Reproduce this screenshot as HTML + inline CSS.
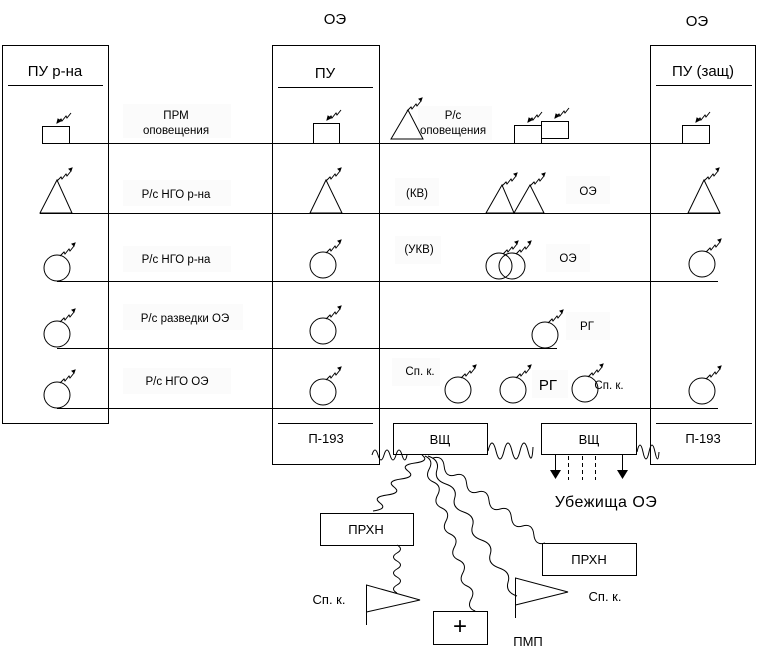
<!DOCTYPE html>
<html><head><meta charset="utf-8"><style>
body{margin:0;background:#fff}
svg{display:block}
text{font-family:"Liberation Sans",sans-serif;fill:#000}
</style></head><body>
<svg width="759" height="659" viewBox="0 0 759 659" xmlns="http://www.w3.org/2000/svg">
<defs>
<g id="lt"><path d="M0,0 l4,-4 l1,2 l4,-5 l1,2 l4,-5" fill="none" stroke="#000" stroke-width="1"/><path d="M14,-10 l1,-3 l-3,1z" fill="#000" stroke="#000" stroke-width="1"/></g>
<g id="ltd"><path d="M0,0 l4,-4 l1,2 l4,-5 l1,2 l4,-5" fill="none" stroke="#000" stroke-width="1"/><path d="M0,0 l1,-4 l3,2z" fill="#000" stroke="#000"/></g>
</defs>
<g fill="none" stroke="#000" stroke-width="1">
<rect x="2.5" y="45.5" width="106" height="378"/>
<rect x="272.5" y="45.5" width="107" height="419"/>
<rect x="650.5" y="45.5" width="105" height="419"/>
<line x1="8" y1="85.5" x2="103" y2="85.5"/>
<line x1="278" y1="87.5" x2="373" y2="87.5"/>
<line x1="656" y1="85.5" x2="752" y2="85.5"/>
<line x1="278" y1="423.5" x2="373" y2="423.5"/>
<line x1="656" y1="423.5" x2="752" y2="423.5"/>
<line x1="42" y1="143.5" x2="709" y2="143.5"/>
<line x1="40" y1="213.5" x2="720" y2="213.5"/>
<line x1="57" y1="281.5" x2="718" y2="281.5"/>
<line x1="57" y1="348.5" x2="557" y2="348.5"/>
<line x1="57" y1="408.5" x2="718" y2="408.5"/>
</g>
<g fill="#fbfbfb">
<rect x="123" y="104" width="108" height="34"/>
<rect x="418" y="106" width="74" height="34"/>
<rect x="123" y="180" width="108" height="26"/>
<rect x="123" y="246" width="108" height="26"/>
<rect x="123" y="304" width="120" height="26"/>
<rect x="123" y="368" width="108" height="26"/>
<rect x="395" y="178" width="44" height="28"/>
<rect x="395" y="236" width="46" height="28"/>
<rect x="566" y="176" width="44" height="28"/>
<rect x="546" y="244" width="44" height="28"/>
<rect x="566" y="312" width="44" height="28"/>
<rect x="392" y="358" width="48" height="28"/>
<rect x="532" y="370" width="36" height="28"/>
</g>
<g fill="none" stroke="#000" stroke-width="1">
<rect x="42.5" y="126.5" width="27" height="17"/>
<rect x="313.5" y="123.5" width="26" height="20"/>
<rect x="514.5" y="125.5" width="27" height="18"/>
<rect x="541.5" y="121.5" width="27" height="17"/>
<rect x="682.5" y="125.5" width="27" height="18"/>
<polygon points="408,110 391,139 423,139"/>
<polygon points="57,180 40,213 72,213"/>
<polygon points="326,180 310,213 342,213"/>
<polygon points="502,185 486,213 514,213"/>
<polygon points="530,185 514,213 544,213"/>
<polygon points="704,180 688,213 720,213"/>
<circle cx="57" cy="268" r="13"/>
<circle cx="323" cy="265" r="13"/>
<circle cx="499" cy="266" r="13"/>
<circle cx="512" cy="266" r="13"/>
<circle cx="702" cy="264" r="13"/>
<circle cx="57" cy="334" r="13"/>
<circle cx="323" cy="331" r="13"/>
<circle cx="545" cy="335" r="13"/>
<circle cx="57" cy="395" r="13"/>
<circle cx="323" cy="392" r="13"/>
<circle cx="458" cy="390" r="13"/>
<circle cx="513" cy="390" r="13"/>
<circle cx="585" cy="389" r="13"/>
<circle cx="702" cy="391" r="13"/>
</g>
<use href="#ltd" transform="translate(57,123)"/>
<use href="#ltd" transform="translate(327,120)"/>
<use href="#ltd" transform="translate(528,122)"/>
<use href="#ltd" transform="translate(555,118)"/>
<use href="#ltd" transform="translate(696,122)"/>
<use href="#lt" transform="translate(407,111)"/>
<use href="#lt" transform="translate(57,181)"/>
<use href="#lt" transform="translate(326,181)"/>
<use href="#lt" transform="translate(502,186)"/>
<use href="#lt" transform="translate(530,186)"/>
<use href="#lt" transform="translate(704,181)"/>
<use href="#lt" transform="translate(60,256)"/>
<use href="#lt" transform="translate(326,253)"/>
<use href="#lt" transform="translate(503,254)"/>
<use href="#lt" transform="translate(516,254)"/>
<use href="#lt" transform="translate(706,252)"/>
<use href="#lt" transform="translate(60,322)"/>
<use href="#lt" transform="translate(326,319)"/>
<use href="#lt" transform="translate(548,323)"/>
<use href="#lt" transform="translate(60,383)"/>
<use href="#lt" transform="translate(326,380)"/>
<use href="#lt" transform="translate(461,378)"/>
<use href="#lt" transform="translate(516,378)"/>
<use href="#lt" transform="translate(588,377)"/>
<use href="#lt" transform="translate(706,379)"/>
<g fill="none" stroke="#000" stroke-width="1">
<rect x="393.5" y="423.5" width="94" height="31"/>
<rect x="541.5" y="423.5" width="95" height="31"/>
<rect x="320.5" y="513.5" width="93" height="32"/>
<rect x="542.5" y="543.5" width="94" height="32"/>
<rect x="433.5" y="611.5" width="54" height="33"/>
<path d="M366.5,625 V585 L420,600 L366.5,612"/>
<path d="M515.5,618 V578 L568,592 L515.5,605"/>
<line x1="568.5" y1="456" x2="568.5" y2="480" stroke-dasharray="4,3"/>
<line x1="582.5" y1="456" x2="582.5" y2="480" stroke-dasharray="4,3"/>
<line x1="595.5" y1="456" x2="595.5" y2="480" stroke-dasharray="4,3"/>
<line x1="555.5" y1="455" x2="555.5" y2="470"/>
<line x1="622.5" y1="455" x2="622.5" y2="470"/>
<path d="M372,455 q3,-10 6,0 t6,0 t6,0 t6,0 t6,0 t5,0"/>
<path d="M488,451 q4,-16 8,0 t8,0 t8,0 t8,0 t8,0 t5,-4"/>
<path d="M637,452 q3,-14 6,0 t6,0 t6,0 t4,0"/>
<path d="M422,455 q8,6 -7,8 t-7,8 t-7,8 t-7,8 t-7,8 t-7,8 t-7,8"/>
<path d="M397,545 q7,4 0,8 t0,8 t0,8 t0,8 t0,8 t0,8"/>
<path d="M425,456 q9,4 4.2,13 t4.2,13 t4.2,13 t4.2,13 t4.2,13 t4.2,13 t4.2,13 t4.2,13 t4.2,13 t4.2,13 t4.2,13 t4,12"/>
<path d="M428,456 q12,4 8.9,14 t8.9,14 t8.9,14 t8.9,14 t8.9,14 t8.9,14 t8.9,14 t8.9,14 t8.9,14 t8.9,14"/>
<path d="M433,458 q10,-3 11.2,8.5 t11.2,8.5 t11.2,8.5 t11.2,8.5 t11.2,8.5 t11.2,8.5 t11.2,8.5 t11.2,8.5 t11.2,8.5 t11.2,8.5"/>
</g>
<path d="M550,470 h11 l-5.5,9z M617,470 h11 l-5.5,9z" fill="#000"/>
<g font-size="15" text-anchor="middle">
<text x="335" y="24">ОЭ</text>
<text x="697" y="26">ОЭ</text>
<text x="55" y="76">ПУ р-на</text>
<text x="325" y="78">ПУ</text>
<text x="703" y="76">ПУ (защ)</text>
<text x="548" y="390">РГ</text>
<text x="606" y="507" font-size="16" letter-spacing="0.5">Убежища  ОЭ</text>
<text x="460" y="634" font-size="24">+</text>
</g>
<g font-size="13" text-anchor="middle">
<text x="326" y="443">П-193</text>
<text x="703" y="443">П-193</text>
<text x="440" y="444">ВЩ</text>
<text x="589" y="444">ВЩ</text>
<text x="366" y="534">ПРХН</text>
<text x="589" y="564">ПРХН</text>
<text x="329" y="604">Сп. к.</text>
<text x="605" y="601">Сп. к.</text>
<text x="528" y="646">ПМП</text>
</g>
<g font-size="11.5" text-anchor="middle">
<text x="176" y="119">ПРМ</text>
<text x="176" y="134">оповещения</text>
<text x="453" y="119">Р/с</text>
<text x="453" y="134">оповещения</text>
<text x="176" y="198">Р/с НГО р-на</text>
<text x="176" y="263">Р/с НГО р-на</text>
<text x="185" y="322">Р/с разведки ОЭ</text>
<text x="177" y="385">Р/с НГО ОЭ</text>
<text x="417" y="197">(КВ)</text>
<text x="419" y="253">(УКВ)</text>
<text x="588" y="195">ОЭ</text>
<text x="568" y="262">ОЭ</text>
<text x="587" y="330">РГ</text>
<text x="420" y="375">Сп. к.</text>
<text x="609" y="389">Сп. к.</text>
</g>
</svg>
</body></html>
